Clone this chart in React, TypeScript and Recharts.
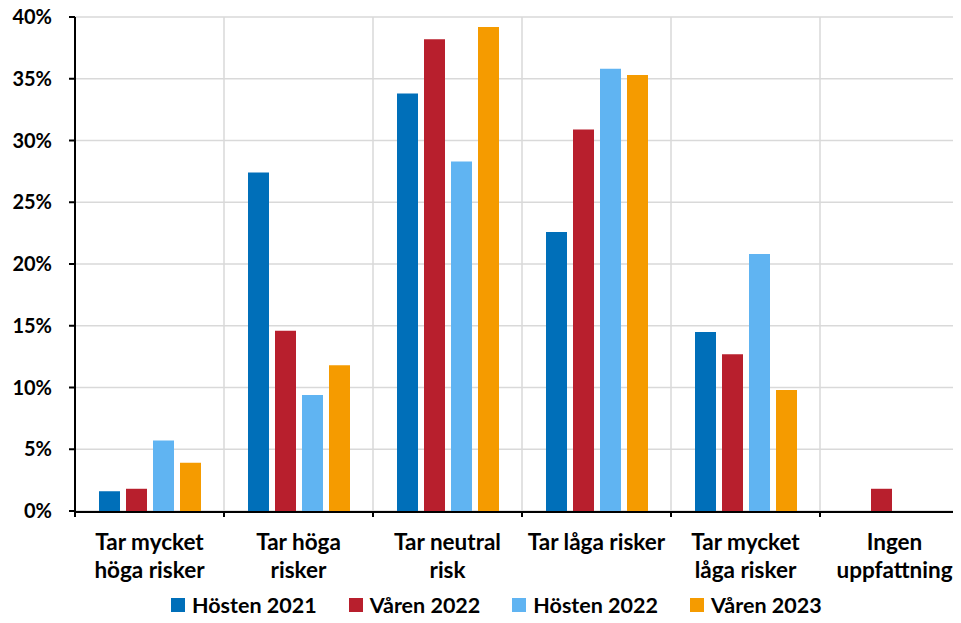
import React from "react";
import {
  Bar,
  BarChart,
  CartesianGrid,
  Legend,
  XAxis,
  YAxis,
} from "recharts";

// Andel per riskattityd, procent
const categories = [
  "Tar mycket\nhöga risker",
  "Tar höga\nrisker",
  "Tar neutral\nrisk",
  "Tar låga risker",
  "Tar mycket\nlåga risker",
  "Ingen\nuppfattning",
];
const hosten2021 = [1.6, 27.4, 33.8, 22.6, 14.5, 0];
const varen2022 = [1.8, 14.6, 38.2, 30.9, 12.7, 1.8];
const hosten2022 = [5.7, 9.4, 28.3, 35.8, 20.8, 0];
const varen2023 = [3.9, 11.8, 39.2, 35.3, 9.8, 0];
const yTicks = [0, 5, 10, 15, 20, 25, 30, 35, 40];
const boundaryTicks = [0, 1, 2, 3, 4, 5, 6];

const seriesList = [
  { key: "h21", name: "Hösten 2021", values: hosten2021, color: "#006FB9" },
  { key: "v22", name: "Våren 2022", values: varen2022, color: "#B81F2D" },
  { key: "h22", name: "Hösten 2022", values: hosten2022, color: "#60B4F2" },
  { key: "v23", name: "Våren 2023", values: varen2023, color: "#F59B00" },
];

const data = categories.map((cat, i) => {
  const row: Record<string, string | number> = { cat, edge: i + 0.5 };
  seriesList.forEach((s) => {
    row[s.key] = s.values[i];
  });
  return row;
});

const FONT = "Lato, 'Noto Sans', sans-serif";

function CategoryTick(props: any) {
  const { x, y, payload } = props;
  const lines = String(payload.value).split("\n");
  return (
    <text
      x={x}
      y={y}
      textAnchor="middle"
      fontFamily={FONT}
      fontWeight={700}
      fontSize={22.5}
      fill="#000"
    >
      {lines.map((ln, i) => (
        <tspan key={i} x={x} y={y + 36 + i * 28}>
          {ln}
        </tspan>
      ))}
    </text>
  );
}

function LegendRow() {
  return (
    <div
      style={{
        display: "flex",
        alignItems: "center",
        height: 24,
        fontFamily: FONT,
        fontWeight: 700,
        fontSize: 21.5,
        lineHeight: "24px",
        color: "#000",
        whiteSpace: "nowrap",
      }}
    >
      {seriesList.map((s) => (
        <div
          key={s.key}
          style={{ display: "flex", alignItems: "center", marginRight: 32 }}
        >
          <span
            style={{
              display: "inline-block",
              width: 14,
              height: 14,
              background: s.color,
              marginRight: 7,
            }}
          />
          <span>{s.name}</span>
        </div>
      ))}
    </div>
  );
}

export default function App() {
  return (
    <div
      style={{
        width: 961,
        height: 623,
        overflow: "hidden",
        margin: -8,
        background: "#fff",
      }}
    >
      <BarChart
        width={969}
        height={623}
        data={data}
        margin={{ top: 17, right: 0, bottom: 0, left: 0 }}
        barSize={21}
        barGap={6}
      >
        <CartesianGrid
          stroke="#D9D9D9"
          strokeWidth={1.5}
          verticalCoordinatesGenerator={({ offset }: any) =>
            boundaryTicks.map((t) => offset.left + (t * offset.width) / 6)
          }
        />
        {/* short tick marks on the category boundaries */}
        <XAxis
          xAxisId="a"
          dataKey="edge"
          type="number"
          domain={[0, 6]}
          ticks={boundaryTicks}
          allowDataOverflow
          height={1}
          axisLine={false}
          tick={() => <g />}
          tickSize={6}
          tickLine={{ stroke: "#000", strokeWidth: 2 }}
        />
        <XAxis
          xAxisId="b"
          dataKey="cat"
          interval={0}
          height={87}
          tickSize={0}
          tickLine={false}
          axisLine={{ stroke: "#000", strokeWidth: 2 }}
          tick={<CategoryTick />}
        />
        <YAxis
          domain={[0, 40]}
          ticks={yTicks}
          width={75}
          tickSize={6}
          tickMargin={17}
          axisLine={{ stroke: "#000", strokeWidth: 2 }}
          tickLine={{ stroke: "#000", strokeWidth: 2 }}
          tickFormatter={(v: number) => `${v}%`}
          tick={{
            fontFamily: FONT,
            fontWeight: 700,
            fontSize: 20,
            fill: "#000",
          }}
        />
        <Legend
          verticalAlign="bottom"
          height={24}
          content={() => <LegendRow />}
          wrapperStyle={{
            left: 171,
            top: 593,
            bottom: "auto",
            width: "auto",
            height: 24,
          }}
        />
        {seriesList.map((s) => (
          <Bar
            key={s.key}
            xAxisId="b"
            dataKey={s.key}
            name={s.name}
            fill={s.color}
            isAnimationActive={false}
          />
        ))}
      </BarChart>
    </div>
  );
}
